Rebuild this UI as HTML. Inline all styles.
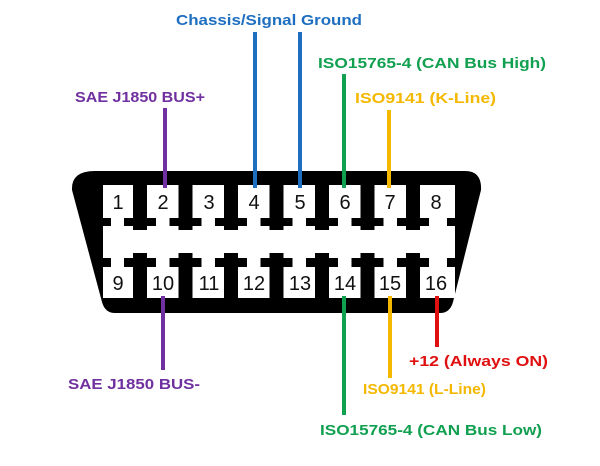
<!DOCTYPE html>
<html><head><style>
html,body{margin:0;padding:0;background:#fff;}
svg{display:block;}
text{font-family:"Liberation Sans",sans-serif;font-weight:bold;font-size:15px;}
.n{font-weight:normal;font-size:20px;fill:#111;text-anchor:middle;}
</style></head><body>
<svg width="600" height="466" viewBox="0 0 600 466" xmlns="http://www.w3.org/2000/svg">
<path d="M95,171 L465,171 Q482,171 481,190 L453,302 Q450,313 440,313 L115,313 Q105,313 102,302 L72,190 Q71,171 95,171 Z" fill="#000"/>
<rect x="103" y="185" width="352" height="113" fill="#fff"/>
<g fill="#000">
  <g id="ts">
    <rect x="133" y="185" width="14" height="45"/>
    <rect x="124" y="218" width="32" height="8"/>
  </g>
  <use href="#ts" x="45.5"/><use href="#ts" x="91"/><use href="#ts" x="136.5"/>
  <use href="#ts" x="182"/><use href="#ts" x="227.5"/><use href="#ts" x="273"/>
  <rect x="103" y="218" width="8" height="8"/>
  <rect x="447" y="218" width="8" height="8"/>
  <g id="bs">
    <rect x="133" y="253" width="14" height="45"/>
    <rect x="124" y="258" width="32" height="9"/>
  </g>
  <use href="#bs" x="45.5"/><use href="#bs" x="91"/><use href="#bs" x="136.5"/>
  <use href="#bs" x="182"/><use href="#bs" x="227.5"/><use href="#bs" x="273"/>
  <rect x="103" y="258" width="8" height="9"/>
  <rect x="447" y="258" width="8" height="9"/>
</g>
<text class="n" x="118" y="209">1</text><text class="n" x="163" y="209">2</text>
<text class="n" x="209" y="209">3</text><text class="n" x="254" y="209">4</text>
<text class="n" x="300" y="209">5</text><text class="n" x="345" y="209">6</text>
<text class="n" x="390" y="209">7</text><text class="n" x="436" y="209">8</text>
<text class="n" x="118" y="290">9</text><text class="n" x="163" y="290">10</text>
<text class="n" x="209" y="290">11</text><text class="n" x="254" y="290">12</text>
<text class="n" x="300" y="290">13</text><text class="n" x="345" y="290">14</text>
<text class="n" x="390" y="290">15</text><text class="n" x="436" y="290">16</text>
<g stroke-width="4">
<line x1="165" y1="108" x2="165" y2="188" stroke="#7030a0"/>
<line x1="255" y1="32" x2="255" y2="188" stroke="#1f6fc0"/>
<line x1="300" y1="32" x2="300" y2="188" stroke="#1f6fc0"/>
<line x1="344" y1="74" x2="344" y2="188" stroke="#10a050"/>
<line x1="389" y1="110" x2="389" y2="188" stroke="#f5b800"/>
<line x1="163" y1="296" x2="163" y2="370" stroke="#7030a0"/>
<line x1="344" y1="296" x2="344" y2="415" stroke="#10a050"/>
<line x1="390" y1="296" x2="390" y2="378" stroke="#f5b800"/>
<line x1="437" y1="296" x2="437" y2="347" stroke="#e01010"/>
</g>
<text x="176" y="25" fill="#1f6fc0" textLength="186" lengthAdjust="spacingAndGlyphs">Chassis/Signal Ground</text>
<text x="75" y="102" fill="#7030a0" textLength="130" lengthAdjust="spacingAndGlyphs">SAE J1850 BUS+</text>
<text x="318" y="68" fill="#10a050" textLength="228" lengthAdjust="spacingAndGlyphs">ISO15765-4 (CAN Bus High)</text>
<text x="355" y="103" fill="#f5b800" textLength="141" lengthAdjust="spacingAndGlyphs">ISO9141 (K-Line)</text>
<text x="409" y="366" fill="#e01010" textLength="139" lengthAdjust="spacingAndGlyphs">+12 (Always ON)</text>
<text x="68" y="389" fill="#7030a0" textLength="132" lengthAdjust="spacingAndGlyphs">SAE J1850 BUS-</text>
<text x="363" y="394" fill="#f5b800" textLength="123" lengthAdjust="spacingAndGlyphs">ISO9141 (L-Line)</text>
<text x="320" y="435" fill="#10a050" textLength="222" lengthAdjust="spacingAndGlyphs">ISO15765-4 (CAN Bus Low)</text>
</svg>
</body></html>
